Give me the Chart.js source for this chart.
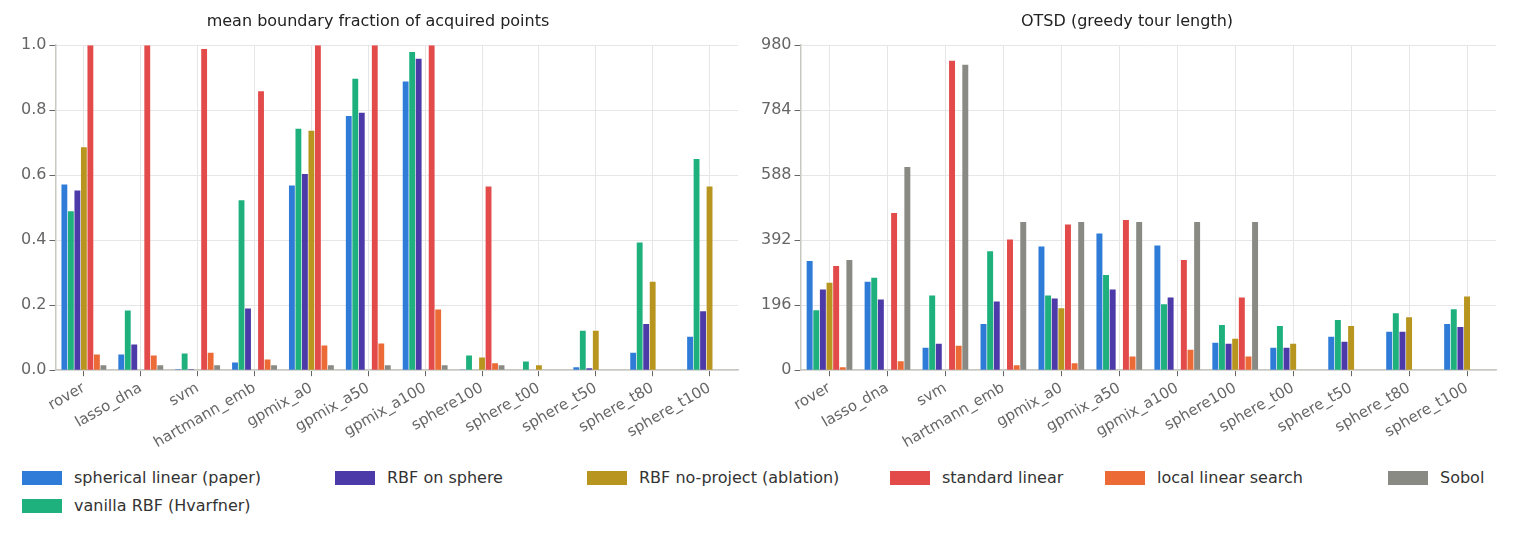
<!DOCTYPE html>
<html>
<head>
<meta charset="utf-8">
<script src="https://cdn.jsdelivr.net/npm/chart.js@4.4.0/dist/chart.umd.min.js"></script>
<style>
  body { margin: 0; background: #fff; font-family: 'DejaVu Sans', sans-serif; }
  #wrap { position: relative; width: 1516px; height: 540px; }
  .box { position: absolute; top: 0; height: 455px; }
  .leg { position: absolute; font-size: 16px; color: #333; display: flex; align-items: center; }
  .leg span.sw { display: inline-block; width: 40px; height: 14px; margin-right: 12px; }
</style>
</head>
<body>
<div id="wrap">
  <div class="box" style="left:0;width:758px"><canvas id="left"></canvas></div>
  <div class="box" style="left:758px;width:758px"><canvas id="right"></canvas></div>
  <div id="legend"></div>
</div>
<script>
const categories = ['rover', 'lasso_dna', 'svm', 'hartmann_emb', 'gpmix_a0', 'gpmix_a50', 'gpmix_a100',
  'sphere100', 'sphere_t00', 'sphere_t50', 'sphere_t80', 'sphere_t100'];

const seriesNames = ['spherical linear (paper)', 'vanilla RBF (Hvarfner)', 'RBF on sphere',
  'RBF no-project (ablation)', 'standard linear', 'local linear search', 'Sobol'];
const seriesColors = ['#2f7bd8', '#1eb17e', '#4c3aa8', '#b8951f', '#e34a4a', '#ec6a35', '#8a8a84'];

// mean boundary fraction
const boundarySpherical = [0.571, 0.048, 0.003, 0.024, 0.568, 0.782, 0.888, 0.002, 0, 0.009, 0.054, 0.103];
const boundaryVanilla   = [0.489, 0.184, 0.051, 0.523, 0.743, 0.897, 0.979, 0.045, 0.027, 0.121, 0.393, 0.650];
const boundaryRbfSphere = [0.553, 0.079, 0.003, 0.190, 0.604, 0.792, 0.958, 0, 0, 0.006, 0.142, 0.181];
const boundaryNoProject = [0.686, 0, 0, 0, 0.737, 0, 0, 0.039, 0.015, 0.121, 0.272, 0.565];
const boundaryStandard  = [1.0, 1.0, 0.988, 0.858, 1.0, 1.0, 1.0, 0.565, 0, 0, 0, 0];
const boundaryLocal     = [0.048, 0.045, 0.054, 0.033, 0.076, 0.082, 0.187, 0.021, 0, 0, 0, 0];
const boundarySobol     = [0.015, 0.015, 0.015, 0.015, 0.015, 0.015, 0.015, 0.015, 0, 0, 0, 0];

// OTSD
const otsdSpherical = [329, 267, 68, 139, 373, 412, 376, 83, 68, 101, 116, 139];
const otsdVanilla   = [181, 279, 225, 359, 225, 287, 199, 136, 133, 151, 172, 184];
const otsdRbfSphere = [243, 213, 80, 207, 216, 243, 219, 80, 68, 86, 116, 130];
const otsdNoProject = [264, 0, 0, 0, 187, 0, 0, 95, 80, 133, 160, 222];
const otsdStandard  = [314, 474, 933, 394, 439, 453, 332, 219, 0, 0, 0, 0];
const otsdLocal     = [9, 27, 74, 15, 21, 41, 62, 41, 0, 0, 0, 0];
const otsdSobol     = [332, 613, 921, 447, 447, 447, 447, 447, 0, 0, 0, 0];

const boundarySeries = [boundarySpherical, boundaryVanilla, boundaryRbfSphere, boundaryNoProject,
  boundaryStandard, boundaryLocal, boundarySobol];
const otsdSeries = [otsdSpherical, otsdVanilla, otsdRbfSphere, otsdNoProject,
  otsdStandard, otsdLocal, otsdSobol];

Chart.defaults.font.family = "'DejaVu Sans', sans-serif";
Chart.defaults.color = '#555';

function makeChart(id, title, series, yOpts, padLeft) {
  new Chart(document.getElementById(id), {
    type: 'bar',
    data: {
      labels: categories,
      datasets: series.map((d, i) => ({
        label: seriesNames[i],
        data: d,
        backgroundColor: seriesColors[i],
        borderWidth: 0,
        categoryPercentage: 0.8,
        barPercentage: 0.9
      }))
    },
    options: {
      responsive: true,
      maintainAspectRatio: false,
      animation: false,
      layout: { padding: { left: padLeft, right: 20, top: 4 } },
      plugins: {
        legend: { display: false },
        tooltip: { enabled: false },
        title: { display: true, text: title, color: '#222', font: { size: 16, weight: 'normal' }, padding: { top: 8, bottom: 14 } }
      },
      scales: {
        x: {
          grid: { offset: false, color: '#e6e6e6', tickLength: 6, tickColor: '#666' },
          border: { color: '#c8c8c0', width: 1.5 },
          ticks: { maxRotation: 30, minRotation: 30, font: { size: 15 }, color: '#666' }
        },
        y: Object.assign({
          grid: { color: '#e6e6e6', tickLength: 6, tickColor: '#666' },
          border: { color: '#c8c8c0', width: 1.5 },
          ticks: { font: { size: 16 }, color: '#666' }
        }, yOpts)
      }
    }
  });
}

makeChart('left', 'mean boundary fraction of acquired points', boundarySeries,
  { min: 0, max: 1.0, ticks: { stepSize: 0.2, font: { size: 16 }, color: '#666', callback: v => v.toFixed(1) } }, 18);
makeChart('right', 'OTSD (greedy tour length)', otsdSeries,
  { min: 0, max: 980, ticks: { stepSize: 200, font: { size: 16 }, color: '#666' } }, 0);

// legend (matplotlib-style, 6 columns)
const legendPos = [[22, 478], [22, 506], [335, 478], [587, 478], [890, 478], [1105, 478], [1388, 478]];
const legendEl = document.getElementById('legend');
seriesNames.forEach((n, i) => {
  const d = document.createElement('div');
  d.className = 'leg';
  d.style.left = legendPos[i][0] + 'px';
  d.style.top = (legendPos[i][1] - 10) + 'px';
  d.innerHTML = '<span class="sw" style="background:' + seriesColors[i] + '"></span>' + n;
  legendEl.appendChild(d);
});
</script>
</body>
</html>
